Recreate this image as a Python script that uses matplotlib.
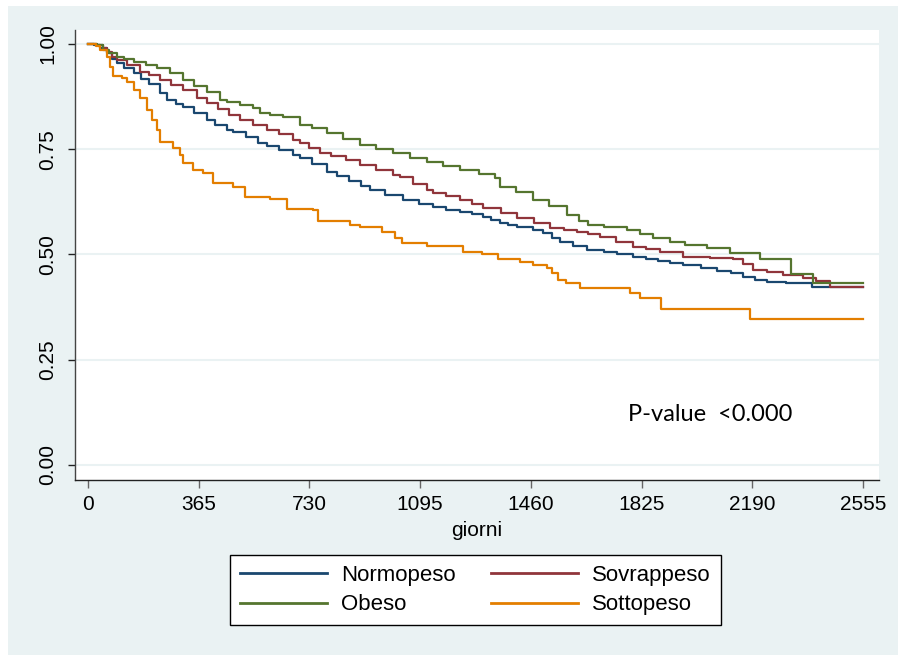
import matplotlib
matplotlib.use("Agg")
import matplotlib.pyplot as plt
from matplotlib.patches import Rectangle

# ---- data ----
norm_t = [0, 20, 40, 62, 80, 95, 120, 150, 175, 200, 237, 259, 290, 314, 350, 391, 420, 457, 479,
          520, 560, 589, 630, 676, 699, 740, 787, 820, 860, 900, 930, 980, 1039, 1090, 1138, 1180,
          1226, 1265, 1302, 1330, 1358, 1385, 1414, 1468, 1500, 1530, 1556, 1600, 1645, 1700,
          1744, 1797, 1840, 1879, 1920, 1962, 2020, 2073, 2120, 2160, 2200, 2239, 2300, 2347,
          2387, 2555]
norm_s = [1.0, 0.998, 0.99, 0.978, 0.965, 0.955, 0.943, 0.93, 0.917, 0.905, 0.883, 0.867, 0.858,
          0.85, 0.835, 0.82, 0.808, 0.796, 0.79, 0.778, 0.765, 0.757, 0.748, 0.736, 0.73, 0.715,
          0.696, 0.686, 0.675, 0.662, 0.653, 0.642, 0.63, 0.62, 0.613, 0.606, 0.60, 0.595, 0.589,
          0.582, 0.575, 0.57, 0.565, 0.558, 0.55, 0.54, 0.53, 0.52, 0.51, 0.505, 0.501, 0.494,
          0.49, 0.485, 0.48, 0.475, 0.468, 0.46, 0.455, 0.447, 0.44, 0.435, 0.433, 0.432, 0.423,
          0.423]

sovr_t = [0, 30, 50, 62, 80, 95, 130, 171, 200, 237, 275, 314, 358, 391, 430, 465, 501, 545, 589,
          630, 676, 699, 730, 765, 800, 850, 897, 950, 1006, 1029, 1070, 1118, 1138, 1180, 1226,
          1265, 1302, 1360, 1414, 1470, 1523, 1570, 1612, 1650, 1688, 1740, 1797, 1840, 1886,
          1962, 2050, 2127, 2160, 2193, 2240, 2292, 2358, 2400, 2446, 2555]
sovr_s = [1.0, 0.997, 0.99, 0.98, 0.97, 0.962, 0.95, 0.934, 0.925, 0.914, 0.902, 0.89, 0.872,
          0.86, 0.845, 0.832, 0.82, 0.808, 0.796, 0.785, 0.772, 0.765, 0.752, 0.74, 0.733, 0.723,
          0.713, 0.70, 0.689, 0.684, 0.668, 0.653, 0.646, 0.638, 0.63, 0.62, 0.61, 0.598, 0.587,
          0.575, 0.563, 0.558, 0.553, 0.548, 0.542, 0.53, 0.518, 0.512, 0.506, 0.494, 0.491,
          0.489, 0.476, 0.463, 0.457, 0.451, 0.444, 0.437, 0.423, 0.423]

obes_t = [0, 30, 50, 70, 95, 120, 150, 190, 226, 270, 314, 350, 391, 435, 457, 500, 545, 567,
          600, 644, 699, 740, 787, 840, 897, 950, 1006, 1060, 1118, 1170, 1226, 1290, 1342, 1358,
          1410, 1468, 1520, 1579, 1620, 1649, 1700, 1777, 1820, 1863, 1920, 1968, 2040, 2117,
          2216, 2318, 2390, 2555]
obes_s = [1.0, 0.998, 0.986, 0.978, 0.97, 0.963, 0.958, 0.95, 0.943, 0.93, 0.914, 0.90, 0.886,
          0.867, 0.862, 0.855, 0.848, 0.836, 0.832, 0.827, 0.808, 0.80, 0.788, 0.775, 0.76, 0.75,
          0.74, 0.73, 0.72, 0.71, 0.70, 0.692, 0.682, 0.66, 0.648, 0.63, 0.614, 0.594, 0.58, 0.57,
          0.566, 0.558, 0.548, 0.539, 0.53, 0.523, 0.515, 0.504, 0.49, 0.454, 0.432, 0.432]

sott_t = [0, 25, 40, 62, 72, 83, 111, 128, 150, 171, 193, 210, 226, 237, 281, 303, 314, 347, 380,
          413, 479, 518, 600, 655, 742, 758, 864, 897, 969, 1012, 1035, 1118, 1236, 1299, 1352,
          1424, 1468, 1513, 1530, 1550, 1576, 1622, 1787, 1820, 1889, 2183, 2555]
sott_s = [1.0, 0.995, 0.986, 0.97, 0.945, 0.924, 0.918, 0.91, 0.89, 0.872, 0.843, 0.82, 0.796,
          0.767, 0.753, 0.736, 0.717, 0.70, 0.693, 0.67, 0.66, 0.637, 0.632, 0.608, 0.606, 0.58,
          0.57, 0.565, 0.553, 0.54, 0.527, 0.52, 0.506, 0.50, 0.49, 0.482, 0.475, 0.468, 0.456,
          0.44, 0.432, 0.42, 0.408, 0.397, 0.37, 0.347, 0.347]

x_ticks = [0, 365, 730, 1095, 1460, 1825, 2190, 2555]
y_ticks = [0.0, 0.25, 0.5, 0.75, 1.0]
y_ticklabels = ["0.00", "0.25", "0.50", "0.75", "1.00"]
x_label = "giorni"
annotation = "P-value  <0.000"

# ---- styling ----
BG = "#EAF2F3"
C_NORM = "#1a476f"
C_SOVR = "#90353b"
C_OBES = "#55752f"
C_SOTT = "#e37e00"

plt.rcParams["font.family"] = ["Liberation Sans", "DejaVu Sans"]

W, H = 898, 655
fig = plt.figure(figsize=(W / 100, H / 100), dpi=100, facecolor="white")
fig.patches.append(Rectangle((8 / W, 0), 1 - 8 / W, 1 - 6 / H, transform=fig.transFigure,
                             facecolor=BG, edgecolor="none", zorder=-10))

ax = fig.add_axes([75 / W, 1 - 480 / H, (879 - 75) / W, (480 - 30) / H])
ax.set_facecolor("white")

lw = 1.6
l1, = ax.step(norm_t, norm_s, where="post", color=C_NORM, lw=lw, label="Normopeso")
l2, = ax.step(sovr_t, sovr_s, where="post", color=C_SOVR, lw=lw, label="Sovrappeso")
l3, = ax.step(obes_t, obes_s, where="post", color=C_OBES, lw=lw, label="Obeso")
l4, = ax.step(sott_t, sott_s, where="post", color=C_SOTT, lw=lw, label="Sottopeso")

ax.set_xlim(-43, 2608)
ax.set_ylim(-0.036, 1.033)
ax.set_xticks(x_ticks)
ax.set_xticklabels([str(v) for v in x_ticks])
ax.set_yticks(y_ticks)
ax.set_yticklabels(y_ticklabels, rotation=90, va="center")

ax.grid(axis="y", color=BG, lw=1.5, zorder=0)
ax.set_axisbelow(True)

for s in ["top", "right"]:
    ax.spines[s].set_visible(False)
ax.spines["left"].set_color("#444444")
ax.spines["bottom"].set_color("#222222")
ax.spines["left"].set_linewidth(1.0)
ax.spines["bottom"].set_linewidth(1.0)

ax.tick_params(axis="x", length=6, width=1, color="#666666", pad=5, labelsize=15)
ax.tick_params(axis="y", length=5, width=1, color="#222222", pad=8, labelsize=15)

ax.set_xlabel(x_label, fontsize=15, labelpad=5)

ax.text(1780, 0.119, annotation, ha="left", va="center", fontsize=17,
        family=["Lato", "DejaVu Sans"])

leg = fig.legend([l1, l3, l2, l4], ["Normopeso", "Obeso", "Sovrappeso", "Sottopeso"],
                 ncol=2, loc="center", bbox_to_anchor=(475.5 / W, 1 - 590 / H),
                 fontsize=16, frameon=True, fancybox=False, framealpha=1,
                 edgecolor="black", handlelength=3.9, handletextpad=0.65,
                 columnspacing=1.6, borderpad=0.45, labelspacing=0.4)
leg.get_frame().set_linewidth(1.0)
for h in leg.legend_handles:
    h.set_linewidth(2.0)

fig.savefig("out.png", dpi=100, facecolor="white")
